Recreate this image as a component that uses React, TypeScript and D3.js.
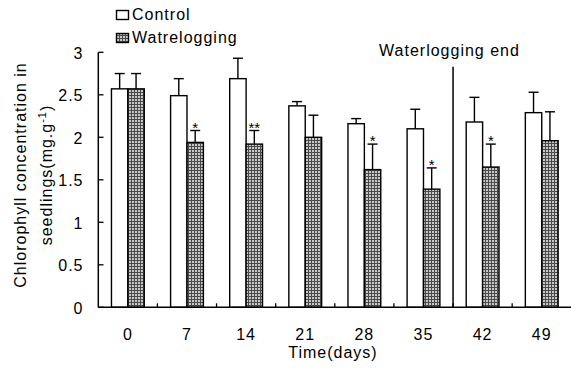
import React from "react";
import * as d3 from "d3";

const categories = ["0", "7", "14", "21", "28", "35", "42", "49"];
const controlValues = [2.57, 2.49, 2.69, 2.37, 2.16, 2.1, 2.18, 2.29];
const controlErrors = [0.18, 0.2, 0.24, 0.05, 0.06, 0.23, 0.29, 0.24];
const waterValues = [2.57, 1.94, 1.92, 2.0, 1.62, 1.39, 1.65, 1.96];
const waterErrors = [0.18, 0.14, 0.16, 0.26, 0.3, 0.25, 0.27, 0.34];
const significance = ["", "*", "**", "", "*", "*", "*", ""];
const yTicks = [0, 0.5, 1, 1.5, 2, 2.5, 3];
const seriesNames = ["Control", "Watrelogging"];
const endLabel = "Waterlogging end";
const endCategory = "42";

const W = 571;
const H = 368;
const FONT = "'Liberation Sans', Arial, sans-serif";

export default function App() {
  const x = d3.scaleBand<string>().domain(categories).range([98.3, 571.3]).padding(0);
  const y = d3.scaleLinear().domain([0, 3]).range([307.3, 52.3]);
  const barW = 16.4;
  const capW = 10;
  const sw = 1.4;
  const textStyle: React.CSSProperties = { fontFamily: FONT, fontSize: 16, letterSpacing: 1 };

  const errBar = (cx: number, v: number, e: number, key: string) => (
    <g key={key} stroke="#000" strokeWidth={sw}>
      <line x1={cx} x2={cx} y1={y(v)} y2={y(v + e)} />
      <line x1={cx - capW / 2} x2={cx + capW / 2} y1={y(v + e)} y2={y(v + e)} />
    </g>
  );

  const endX = x(endCategory)!;

  return (
    <svg
      width={W}
      height={H}
      style={{ position: "absolute", left: 0, top: 0, background: "#fff" }}
    >
      <defs>
        <pattern id="dots" width="3" height="3" patternUnits="userSpaceOnUse">
          <rect width="3" height="3" fill="#4a4a4a" />
          <rect x="0" y="0" width="2" height="2" fill="#c8c8c8" />
        </pattern>
      </defs>
      <rect width={W} height={H} fill="#fff" />

      {/* bars */}
      {categories.map((c, i) => {
        const cx = x(c)! + x.bandwidth() / 2;
        return (
          <g key={c}>
            <rect
              x={cx - barW}
              y={y(controlValues[i])}
              width={barW}
              height={y(0) - y(controlValues[i])}
              fill="#fff"
              stroke="#000"
              strokeWidth={sw}
            />
            <rect
              x={cx}
              y={y(waterValues[i])}
              width={barW}
              height={y(0) - y(waterValues[i])}
              fill="url(#dots)"
              stroke="#000"
              strokeWidth={sw}
            />
            {errBar(cx - barW / 2, controlValues[i], controlErrors[i], "ce" + c)}
            {errBar(cx + barW / 2, waterValues[i], waterErrors[i], "we" + c)}
            {significance[i] && (
              <text
                x={cx + barW / 2}
                y={y(waterValues[i] + waterErrors[i]) + 2}
                textAnchor="middle"
                style={{ fontFamily: FONT, fontSize: 15 }}
                fill="#000"
              >
                {significance[i]}
              </text>
            )}
          </g>
        );
      })}

      {/* axes */}
      <line x1={98.3} x2={98.3} y1={y(3)} y2={y(0)} stroke="#000" strokeWidth={1.5} />
      <line x1={98.3} x2={571} y1={y(0)} y2={y(0)} stroke="#000" strokeWidth={1.5} />
      {yTicks.map((t) => (
        <g key={t}>
          <line x1={98.3} x2={103.5} y1={y(t)} y2={y(t)} stroke="#000" strokeWidth={1.3} />
          <text x={83.5} y={y(t) + 6.5} textAnchor="end" style={textStyle} fill="#000">
            {String(t)}
          </text>
        </g>
      ))}
      {categories.map((c, i) =>
        i === 0 ? null : (
          <line
            key={"xt" + c}
            x1={x(c)!}
            x2={x(c)!}
            y1={y(0)}
            y2={y(0) - 4}
            stroke="#000"
            strokeWidth={1.3}
          />
        )
      )}
      {categories.map((c) => (
        <text
          key={"xl" + c}
          x={x(c)! + x.bandwidth() / 2}
          y={339.5}
          textAnchor="middle"
          style={textStyle}
          fill="#000"
        >
          {c}
        </text>
      ))}
      <text x={333} y={358} textAnchor="middle" style={textStyle} fill="#000">
        Time(days)
      </text>

      {/* y label */}
      <text
        transform={`translate(25.5,175) rotate(-90)`}
        textAnchor="middle"
        style={textStyle}
        fill="#000"
      >
        Chlorophyll concentration in
      </text>
      <text
        transform={`translate(51.5,175) rotate(-90)`}
        textAnchor="middle"
        style={textStyle}
        fill="#000"
      >
        seedlings(mg.g
        <tspan dy={-6} style={{ fontSize: 11 }}>
          -1
        </tspan>
        <tspan dy={6}>)</tspan>
      </text>

      {/* waterlogging end marker */}
      <line x1={endX} x2={endX} y1={66.7} y2={y(0)} stroke="#000" strokeWidth={1.5} />
      <text x={449.5} y={56} textAnchor="middle" style={textStyle} fill="#000">
        {endLabel}
      </text>

      {/* legend */}
      <rect x={116.5} y={10.5} width={12} height={9} fill="#fff" stroke="#000" strokeWidth={1.4} />
      <text x={132} y={20} style={textStyle} fill="#000">
        {seriesNames[0]}
      </text>
      <rect x={116.5} y={33.5} width={12} height={9} fill="url(#dots)" stroke="#000" strokeWidth={1.4} />
      <text x={132} y={43} style={textStyle} fill="#000">
        {seriesNames[1]}
      </text>
    </svg>
  );
}
